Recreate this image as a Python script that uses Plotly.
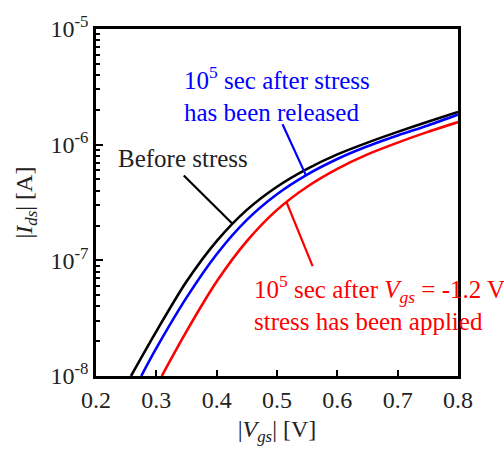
import numpy as np
import plotly.graph_objects as go

# Gate voltage magnitude |Vgs| [V] and drain current magnitude |Ids| [A]
vgs_before = [0.258, 0.30, 0.35, 0.40, 0.45, 0.50, 0.55, 0.60, 0.65, 0.70, 0.75, 0.80]
ids_before = [1.0e-8, 2.43e-8, 6.55e-8, 1.466e-7, 2.73e-7, 4.33e-7, 6.18e-7, 8.24e-7,
              1.042e-6, 1.29e-6, 1.58e-6, 1.92e-6]

vgs_released = [0.275, 0.30, 0.35, 0.40, 0.45, 0.50, 0.55, 0.60, 0.65, 0.70, 0.75, 0.80]
ids_released = [1.0e-8, 1.74e-8, 4.76e-8, 1.13e-7, 2.24e-7, 3.73e-7, 5.51e-7, 7.52e-7,
                9.68e-7, 1.2e-6, 1.466e-6, 1.82e-6]

vgs_stressed = [0.309, 0.35, 0.40, 0.45, 0.50, 0.55, 0.60, 0.65, 0.70, 0.75, 0.80]
ids_stressed = [1.0e-8, 2.43e-8, 6.55e-8, 1.466e-7, 2.73e-7, 4.33e-7, 6.18e-7, 8.24e-7,
                1.042e-6, 1.29e-6, 1.57e-6]

x_ticks = [0.2, 0.3, 0.4, 0.5, 0.6, 0.7, 0.8]
y_ticks = [1e-8, 1e-7, 1e-6, 1e-5]
y_ticktext = ["10<sup>-8</sup>", "10<sup>-7</sup>", "10<sup>-6</sup>", "10<sup>-5</sup>"]
y_minor = [m * 10.0 ** e for e in (-8, -7, -6) for m in range(2, 10)]

FONT = "Liberation Serif"

fig = go.Figure()
series = [
    (vgs_before, ids_before, "black", "Before stress"),
    (vgs_released, ids_released, "#0000ff", "Released"),
    (vgs_stressed, ids_stressed, "#ff0000", "Stressed"),
]
for xs, ys, col, name in series:
    fig.add_trace(go.Scatter(x=xs, y=ys, mode="lines", name=name,
                             line=dict(color=col, width=2.6, shape="spline", smoothing=0.8),
                             showlegend=False))


def on_curve(xs, ys, v):
    """log10 of the current on a curve at gate voltage v."""
    return float(np.interp(v, xs, np.log10(ys)))


# leader lines: (curve, point on curve, free end)
leaders = [
    (vgs_before, ids_before, "black", 0.427, (0.343, -6.253)),
    (vgs_released, ids_released, "#0000ff", 0.548, (0.508, -5.81)),
    (vgs_stressed, ids_stressed, "#ff0000", 0.516, (0.560, -7.063)),
]
annotations = []
for xs, ys, col, v, (tx, ty) in leaders:
    annotations.append(dict(x=v, y=on_curve(xs, ys, v), xref="x", yref="y",
                            ax=tx, ay=ty, axref="x", ayref="y", text="",
                            showarrow=True, arrowhead=0, arrowwidth=2.2,
                            arrowcolor=col, standoff=0, startstandoff=0))

annotations += [
    dict(x=0.344, y=-6.119, xref="x", yref="y", text="Before stress",
         showarrow=False, xanchor="center", yanchor="middle",
         font=dict(family=FONT, size=25, color="#222")),
    dict(x=0.3426, y=-5.56, xref="x", yref="y",
         text="10<sup>5</sup> sec after stress<br>has been released",
         showarrow=False, xanchor="left", yanchor="middle", align="left",
         font=dict(family=FONT, size=25, color="#0000ff")),
    dict(x=0.458, y=-7.373, xref="x", yref="y",
         text="10<sup>5</sup> sec after <i>V</i><sub><i>gs</i></sub> = -1.2 V<br>stress has been applied",
         showarrow=False, xanchor="left", yanchor="middle", align="left",
         font=dict(family=FONT, size=25, color="#ff0000")),
]

fig.update_layout(
    width=504, height=450,
    margin=dict(l=96, r=46, t=23, b=68),
    paper_bgcolor="white", plot_bgcolor="white",
    font=dict(family=FONT, size=24, color="#222"),
    annotations=annotations,
    xaxis=dict(
        range=[0.2, 0.8], tickvals=x_ticks, ticktext=[f"{v:.1f}" for v in x_ticks],
        ticks="inside", ticklen=6, tickwidth=2, tickcolor="black",
        tickfont=dict(family=FONT, size=24, color="#222"),
        showline=True, linewidth=2.6, linecolor="black", mirror=True,
        showgrid=False, zeroline=False,
        title=dict(text="|<i>V</i><sub><i>gs</i></sub>| [V]", standoff=9,
                   font=dict(family=FONT, size=24, color="#222")),
    ),
    yaxis=dict(
        type="log", range=[-8, -5], tickvals=y_ticks, ticktext=y_ticktext,
        ticks="inside", ticklen=7, tickwidth=2, tickcolor="black",
        tickfont=dict(family=FONT, size=24, color="#222"),
        minor=dict(tickvals=y_minor, ticks="inside", ticklen=4, tickwidth=1.6,
                   tickcolor="black", showgrid=False),
        showline=True, linewidth=2.6, linecolor="black", mirror=True,
        showgrid=False, zeroline=False,
        title=dict(text="|<i>I</i><sub><i>ds</i></sub>| [A]", standoff=12,
                   font=dict(family=FONT, size=24, color="#222")),
    ),
)

fig.write_html("out.html")
